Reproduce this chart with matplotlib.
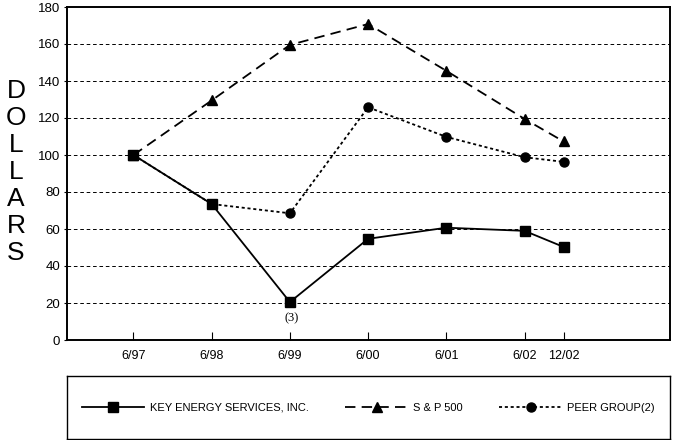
import matplotlib
matplotlib.use("Agg")
import matplotlib.pyplot as plt

plt.rcParams['font.family'] = ['Liberation Sans', 'DejaVu Sans']
plt.rcParams['lines.scale_dashes'] = False

# data
periods = ['6/97', '6/98', '6/99', '6/00', '6/01', '6/02', '12/02']
xpos = [0, 1, 2, 3, 4, 5, 5.5]  # years from 6/97
key_energy = [100, 73.5, 20.5, 54.7, 60.7, 59.0, 50.3]
sp500 = [100, 129.5, 159.5, 170.8, 145.5, 119.5, 107.3]
peer_group = [100, 73.5, 68.5, 125.8, 109.8, 98.8, 96.3]

fig = plt.figure(figsize=(6.73, 4.40), dpi=100)
ax = fig.add_axes([67/673, 100/440, 603/673, 333/440])

l1, = ax.plot(xpos, key_energy, color='black', lw=1.3, marker='s', ms=6.5,
              label='KEY ENERGY SERVICES, INC.')
l2, = ax.plot(xpos, sp500, color='black', lw=1.3, dashes=(7.5, 4.5), marker='^', ms=7.5,
              label='S & P 500')
l3, = ax.plot(xpos, peer_group, color='black', lw=1.3, dashes=(2.2, 2.0), marker='o', ms=6.5,
              label='PEER GROUP(2)')

ax.annotate('(3)', (xpos[2], key_energy[2]), xytext=(1, -12), textcoords='offset points',
            ha='center', va='center', fontsize=9, family='Liberation Serif')

ax.set_xlim(-0.85, 6.86)
ax.set_ylim(0, 180)
ax.set_xticks(xpos)
ax.set_xticklabels(periods)
ax.set_yticks(range(0, 181, 20))
ax.tick_params(axis='x', direction='in', length=6, width=0.8, pad=7, labelsize=9)
ax.tick_params(axis='y', direction='out', length=2, width=0.8, pad=3, labelsize=9.5)
for y in range(20, 161, 20):
    ax.axhline(y, color='black', lw=0.7, dashes=(2.6, 2.0), zorder=0)
for s in ax.spines.values():
    s.set_linewidth(1.4)

fig.text(16/673, 1 - 172/440, 'D\nO\nL\nL\nA\nR\nS', ha='center', va='center',
         fontsize=19, linespacing=1.15)

# legend box
lax = fig.add_axes([67/673, 1/440, 603/673, 63/440])
lax.set_xticks([])
lax.set_yticks([])
for s in lax.spines.values():
    s.set_linewidth(1.0)
lax.legend(handles=[l1, l2, l3], loc='center', ncol=3, frameon=False, fontsize=8,
           handlelength=5.6, handletextpad=0.5, columnspacing=3.3)

fig.savefig('out.png', dpi=100)
